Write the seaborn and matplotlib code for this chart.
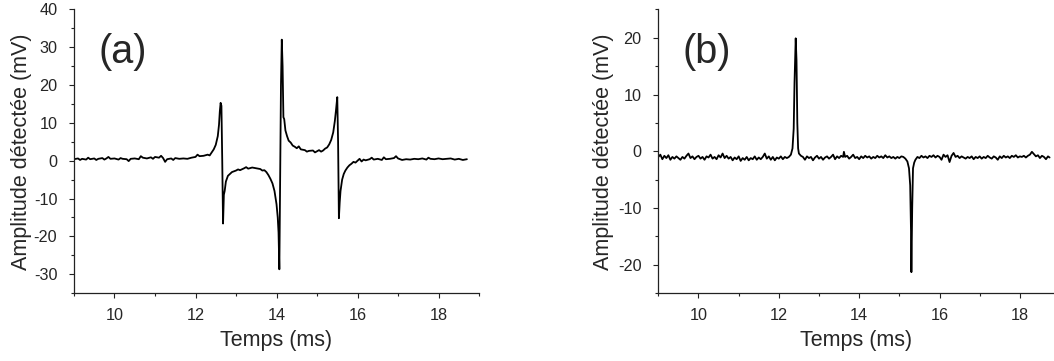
import pandas as pd
import matplotlib.pyplot as plt
import seaborn as sns
from matplotlib.ticker import MultipleLocator

# trace (a): time in ms, amplitude in mV
time_a = [9.0, 9.1, 9.15, 9.2, 9.3, 9.35, 9.4, 9.5, 9.55, 9.6, 9.7, 9.75, 9.8, 9.85, 9.9,
          10.0, 10.1, 10.15, 10.2, 10.3, 10.35, 10.4, 10.5, 10.6, 10.65, 10.7, 10.8, 10.9, 10.95,
          11.0, 11.1, 11.15, 11.2, 11.25, 11.3, 11.4, 11.45, 11.5, 11.6, 11.7, 11.8, 11.9,
          12.0, 12.05, 12.1, 12.2, 12.3, 12.35, 12.4, 12.45, 12.5, 12.55, 12.58, 12.6, 12.62,
          12.64, 12.66, 12.68, 12.70, 12.72, 12.75, 12.8, 12.85, 12.9,
          13.0, 13.05, 13.1, 13.2, 13.25, 13.3, 13.4, 13.5, 13.6, 13.65, 13.7, 13.75, 13.8,
          13.85, 13.9, 13.95, 14.0, 14.03, 14.05, 14.07, 14.09, 14.11, 14.13, 14.15, 14.17,
          14.19, 14.22, 14.26, 14.3, 14.35, 14.4, 14.45, 14.5, 14.55, 14.6, 14.7, 14.75, 14.8,
          14.9, 14.95, 15.0, 15.05, 15.1, 15.15, 15.2, 15.25, 15.3, 15.35, 15.4, 15.44, 15.47,
          15.50, 15.52, 15.54, 15.56, 15.58, 15.62, 15.66, 15.7, 15.75, 15.8, 15.85, 15.9, 15.95,
          16.0, 16.05, 16.1, 16.15, 16.2, 16.3, 16.35, 16.4, 16.5, 16.6, 16.65, 16.7, 16.8, 16.9,
          16.95, 17.0, 17.1, 17.2, 17.3, 17.4, 17.5, 17.6, 17.7, 17.75, 17.8, 17.9,
          18.0, 18.1, 18.2, 18.3, 18.4, 18.5, 18.6, 18.7]
amp_a = [0.4, 0.6, 0.2, 0.5, 0.3, 0.8, 0.4, 0.6, 0.2, 0.5, 0.7, 0.3, 0.6, 1.0, 0.5,
         0.6, 0.3, 0.7, 0.5, 0.4, -0.1, 0.5, 0.6, 0.4, 1.2, 0.8, 0.6, 0.9, 0.5,
         1.0, 0.8, 1.3, 0.7, -0.3, 0.4, 0.6, 0.2, 0.7, 0.5, 0.6, 0.5, 0.8,
         1.0, 1.6, 1.2, 1.3, 1.6, 1.4, 2.2, 3.0, 4.2, 6.5, 9.5, 13.0, 15.3,
         14.5, 0.0, -16.6, -9.0, -8.0, -5.5, -4.0, -3.5, -3.0,
         -2.6, -2.3, -2.5, -2.0, -1.7, -2.1, -1.8, -2.0, -2.2, -2.6, -2.5, -3.0, -3.8,
         -4.8, -6.0, -8.0, -11.5, -15.0, -19.0, -28.7, -5.0, 20.0, 32.0, 25.0, 11.5,
         11.0, 8.0, 6.5, 5.3, 4.8, 4.0, 3.7, 3.3, 3.8, 3.0, 2.8, 2.4, 2.6,
         2.7, 2.2, 2.5, 2.8, 2.4, 2.7, 3.2, 3.5, 4.3, 5.5, 7.5, 10.5, 13.5,
         16.8, 5.0, -15.2, -11.0, -8.0, -5.0, -3.5, -2.6, -1.8, -1.2, -0.8, -0.3, -0.5,
         0.0, 0.5, -0.2, 0.3, 0.1, 0.4, 0.8, 0.3, 0.5, 0.2, 0.9, 0.4, 0.5, 0.7,
         1.2, 0.6, 0.2, 0.4, 0.3, 0.5, 0.4, 0.6, 0.3, 0.8, 0.5, 0.4,
         0.6, 0.4, 0.5, 0.6, 0.3, 0.5, 0.2, 0.4]

# trace (b)
time_b = [9.0, 9.05, 9.1, 9.15, 9.2, 9.25, 9.3, 9.35, 9.4, 9.45, 9.5, 9.55, 9.6, 9.65, 9.7,
          9.75, 9.8, 9.85, 9.9, 9.95, 10.0, 10.05, 10.1, 10.15, 10.2, 10.25, 10.3, 10.35,
          10.4, 10.45, 10.5, 10.55, 10.6, 10.65, 10.7, 10.75, 10.8, 10.85, 10.9, 10.95,
          11.0, 11.05, 11.1, 11.15, 11.2, 11.25, 11.3, 11.35, 11.4, 11.45, 11.5, 11.55,
          11.6, 11.65, 11.7, 11.75, 11.8, 11.85, 11.9, 11.95, 12.0, 12.05, 12.1, 12.15,
          12.2, 12.25, 12.3, 12.34, 12.37, 12.39, 12.42, 12.44, 12.46, 12.48, 12.5, 12.55,
          12.6, 12.65, 12.7, 12.75, 12.8, 12.85, 12.9, 12.95, 13.0, 13.05, 13.1, 13.15,
          13.2, 13.25, 13.3, 13.35, 13.4, 13.45, 13.5, 13.55, 13.6, 13.62, 13.65, 13.7,
          13.75, 13.8, 13.85, 13.9, 13.95, 14.0, 14.05, 14.1, 14.15, 14.2, 14.25, 14.3,
          14.35, 14.4, 14.45, 14.5, 14.55, 14.6, 14.65, 14.7, 14.75, 14.8, 14.85, 14.9,
          14.95, 15.0, 15.05, 15.1, 15.15, 15.2, 15.24, 15.27, 15.29, 15.30, 15.32, 15.34,
          15.37, 15.4, 15.45, 15.5, 15.55, 15.6, 15.65, 15.7, 15.75, 15.8, 15.85, 15.9,
          15.95, 16.0, 16.05, 16.1, 16.15, 16.2, 16.25, 16.3, 16.35, 16.4, 16.45, 16.5,
          16.55, 16.6, 16.65, 16.7, 16.75, 16.8, 16.85, 16.9, 16.95, 17.0, 17.05, 17.1,
          17.15, 17.2, 17.25, 17.3, 17.35, 17.4, 17.45, 17.5, 17.55, 17.6, 17.65, 17.7,
          17.75, 17.8, 17.85, 17.9, 17.95, 18.0, 18.05, 18.1, 18.15, 18.2, 18.25, 18.3,
          18.35, 18.4, 18.45, 18.5, 18.55, 18.6, 18.65, 18.7, 18.74]
amp_b = [-1.0, -0.6, -1.4, -0.8, -1.2, -0.7, -1.5, -1.0, -1.3, -0.9, -1.2, -1.5, -1.0, -1.3, -0.8,
         -0.4, -1.2, -0.9, -1.4, -1.0, -0.8, -1.3, -1.0, -1.5, -0.9, -1.1, -0.6, -1.3,
         -1.0, -1.4, -0.7, -1.1, -0.4, -1.2, -0.8, -1.3, -1.0, -1.6, -1.1, -1.4,
         -0.9, -1.7, -1.2, -1.5, -1.0, -1.6, -1.2, -1.4, -0.9, -1.5, -1.1, -1.4,
         -1.0, -0.4, -1.3, -0.9, -1.5, -1.0, -1.6, -1.1, -1.3, -0.9, -1.4, -1.0,
         -1.2, -1.0, -0.6, 0.5, 4.0, 12.0, 19.9, 16.0, 5.0, 0.5, -0.4, -0.8,
         -1.0, -1.5, -0.9, -1.2, -1.0, -1.6, -1.1, -0.8, -1.3, -1.0, -1.5, -1.1,
         -0.9, -1.3, -1.0, -0.6, -1.4, -0.9, -1.2, -0.8, -1.0, -0.1, -1.0, -0.8,
         -1.3, -1.0, -0.6, -1.2, -1.0, -1.4, -0.9, -1.2, -0.8, -1.1, -0.9, -1.3,
         -1.0, -1.2, -0.8, -1.1, -0.9, -1.2, -0.7, -1.1, -0.9, -1.2, -1.0, -1.3,
         -1.0, -1.2, -0.9, -1.0, -1.3, -1.8, -3.0, -6.0, -14.0, -21.3, -10.0, -3.0,
         -2.0, -1.5, -1.0, -1.2, -0.8, -1.1, -0.9, -1.2, -0.8, -1.0, -0.7, -1.1,
         -0.8, -1.0, -1.5, -0.6, -1.0, -0.7, -1.9, -0.8, -0.3, -1.0, -0.8, -1.2,
         -0.9, -1.1, -1.3, -1.0, -1.2, -0.9, -1.4, -1.0, -1.2, -0.9, -1.3, -1.0,
         -1.2, -0.8, -1.1, -1.3, -0.9, -1.1, -1.5, -0.9, -1.2, -0.8, -1.1, -0.9,
         -1.2, -0.8, -1.0, -0.7, -1.1, -0.9, -1.0, -0.8, -1.1, -0.8, -0.6, -0.1,
         -0.5, -0.9, -0.7, -1.2, -0.8, -1.0, -1.4, -0.9, -1.1]

sns.set_theme(style="ticks")
plt.rcParams['font.family'] = ['Liberation Sans', 'DejaVu Sans']
plt.rcParams['axes.unicode_minus'] = False

fig = plt.figure(figsize=(10.54, 3.61), dpi=100)
ax_a = fig.add_axes([0.0702, 0.188, 0.3843, 0.786])
ax_b = fig.add_axes([0.6246, 0.188, 0.3754, 0.786])

panels = [
    (ax_a, time_a, amp_a, "(a)", (-35, 40), (9, 19), -0.104),
    (ax_b, time_b, amp_b, "(b)", (-25, 25), (9, 18.85), -0.112),
]

for ax, t, a, tag, ylim, xlim, ylab_x in panels:
    df = pd.DataFrame({'t': t, 'amp': a})
    sns.lineplot(data=df, x='t', y='amp', ax=ax, color='black', lw=1.3,
                 sort=False, estimator=None)
    ax.set_xlim(*xlim)
    ax.set_ylim(*ylim)
    ax.xaxis.set_major_locator(MultipleLocator(2))
    ax.xaxis.set_minor_locator(MultipleLocator(1))
    ax.yaxis.set_major_locator(MultipleLocator(10))
    ax.yaxis.set_minor_locator(MultipleLocator(5))
    ax.tick_params(which='major', length=3.5, width=0.8, labelsize=11.7, color='#222222')
    ax.tick_params(axis='x', which='major', pad=7)
    ax.tick_params(axis='y', which='major', pad=8.5)
    ax.tick_params(which='minor', length=2.2, width=0.8, color='#222222')
    sns.despine(ax=ax)
    for s in ('left', 'bottom'):
        ax.spines[s].set_linewidth(0.9)
        ax.spines[s].set_color('#222222')
    ax.set_xlabel('Temps (ms)', fontsize=15.5)
    ax.set_ylabel('Amplitude détectée (mV)', fontsize=15.5)
    ax.xaxis.set_label_coords(0.5, -0.13)
    ax.yaxis.set_label_coords(ylab_x, 0.5)
    ax.text(0.06, 0.85, tag, transform=ax.transAxes, fontsize=28.5, va='center', ha='left')

fig.savefig('out.png', dpi=100)
